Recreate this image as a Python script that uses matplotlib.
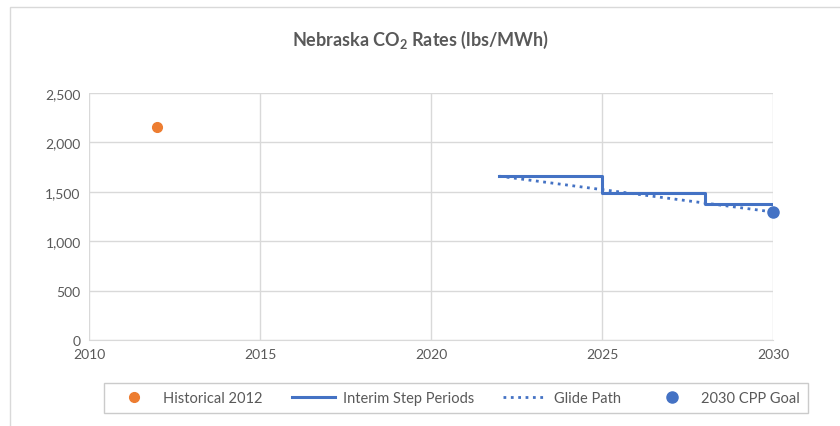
import matplotlib.pyplot as plt
from matplotlib.patches import Rectangle

plt.rcParams['font.family'] = ['Lato', 'DejaVu Sans']

# data
hist_year = [2012]
hist_val = [2160]
step_years = [2022, 2025, 2028, 2030]
step_vals = [1658, 1491, 1377, 1377]
glide_years = [2022, 2030]
glide_vals = [1658, 1296]
goal_year = [2030]
goal_val = [1296]

orange = '#ED7D31'
blue = '#4472C4'
grey = '#595959'

fig = plt.figure(figsize=(8.4, 4.27), dpi=100)
ax = fig.add_axes([89 / 840, 1 - 341 / 427, 684 / 840, 247 / 427])

ax.plot(hist_year, hist_val, 'o', color=orange, markersize=7, label='Historical 2012', zorder=3)
ax.plot(step_years, step_vals, drawstyle='steps-post', color=blue, lw=2.2, label='Interim Step Periods')
ax.plot(glide_years, glide_vals, ':', color=blue, lw=2, label='Glide Path')
ax.plot(goal_year, goal_val, 'o', color=blue, markersize=8, label='2030 CPP Goal', zorder=4, clip_on=False)

ax.set_xlim(2010, 2030)
ax.set_ylim(0, 2500)
ax.set_xticks(range(2010, 2031, 5))
ax.set_yticks(range(0, 2501, 500))
ax.set_yticklabels([f'{v:,}' for v in range(0, 2501, 500)])
ax.grid(True, color='#d9d9d9', lw=1)
ax.set_axisbelow(True)
for s in ['top', 'right', 'left']:
    ax.spines[s].set_visible(False)
ax.spines['bottom'].set_color('#d9d9d9')
ax.tick_params(length=0, labelsize=10, colors=grey, pad=6)

fig.text(0.5, 1 - 40 / 427, r'Nebraska CO$_\mathregular{2}$ Rates (lbs/MWh)', ha='center', va='center',
         fontsize=13, fontweight='bold', color=grey)

leg = fig.legend(loc='center', bbox_to_anchor=(456 / 840, 1 - 399 / 427), ncol=4,
                 frameon=True, fancybox=False, fontsize=10.5, handlelength=3.0,
                 handletextpad=0.5, columnspacing=2.0, borderpad=0.55)
leg.get_frame().set_edgecolor('#bfbfbf')
leg.get_frame().set_linewidth(1)
for t in leg.get_texts():
    t.set_color(grey)

fig.patches.append(Rectangle((10 / 840, -0.1), 2, 1 - 8 / 427 + 0.1, transform=fig.transFigure,
                             fill=False, edgecolor='#d9d9d9', lw=1))

fig.savefig('out.png', dpi=100)
